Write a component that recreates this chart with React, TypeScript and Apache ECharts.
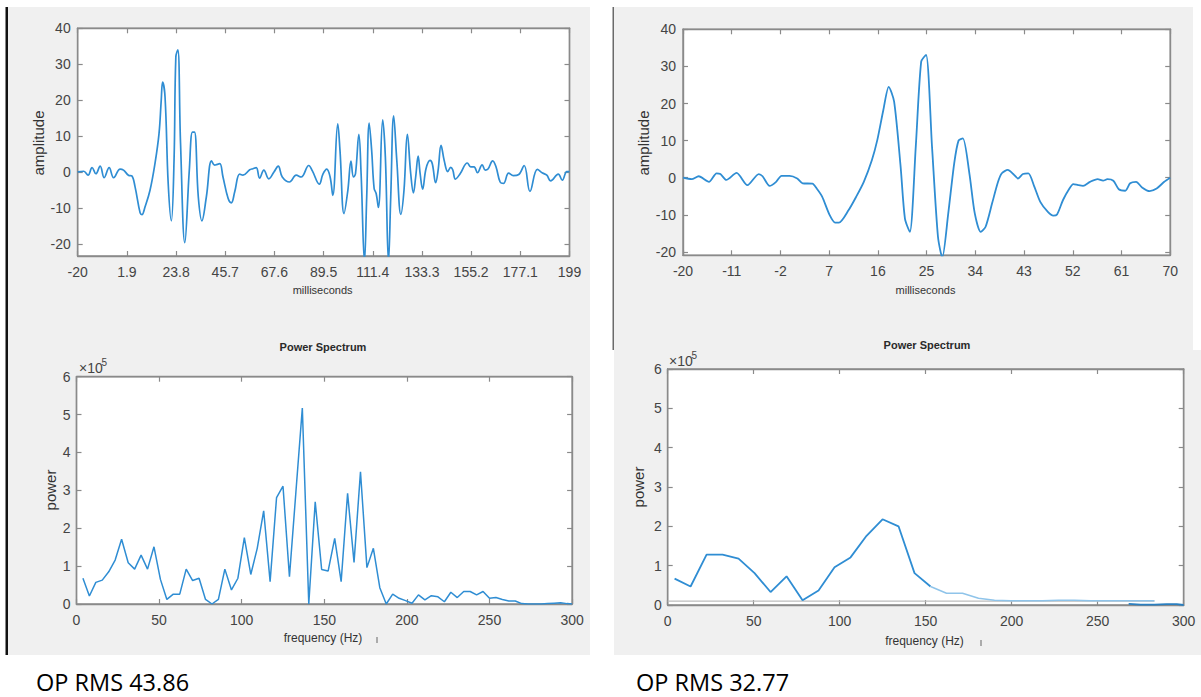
import React, { useEffect, useRef } from "react";
import * as echarts from "echarts";

// ---------- data ----------
// top-left waveform: [milliseconds, amplitude]
const tlSamples: number[][] = [
  [-20, 0], [-17.3, 0.2], [-15.4, -0.9], [-13.6, 1.2], [-11.9, -0.5], [-10, 1.6], [-8.2, -1.6], [-6, 1.2],
  [-4, -1.6], [-1.1, 0.8], [0.4, 0.5], [2.6, -0.9], [4.1, -1.1], [5.5, -4], [7.8, -11.4], [8.6, -11.9],
  [10, -9.7], [12.2, -5.1], [14.4, 2.3], [16.2, 10.6], [17.2, 20], [17.8, 25], [18.9, 20.8], [20.3, -3.2],
  [21.7, -13.6], [22.9, 3.2], [23.7, 32], [24.6, 34], [25.8, 7.9], [27.7, -19.7], [29.7, 0.5], [31.1, 11.1],
  [32, 11.1], [33.7, -6.9], [35.3, -13.6], [37.3, -6.9], [39.6, 3.1], [41, 1.9], [42.1, 2.1], [43.3, 2.3],
  [44.7, -1.4], [47, -7.4], [48.4, -8.6], [49.9, -5.6], [52.1, -0.6], [53.6, -0.9], [56.6, 0.6], [58, 0.9],
  [59.5, 1.2], [61, -1.7], [62.9, 0.5], [65.1, -1.9], [67.4, 0], [69.3, 1.6], [71.1, -1.4], [74.3, -2.8],
  [77.3, -0.9], [79.5, -1.4], [82.9, 1.8], [84.5, 0.3], [87.6, -3.4], [89.2, -0.6], [90.9, 0.8], [92.4, -1.4],
  [93.6, -6.5], [95.8, 13.4], [96.8, 6], [98.6, -11.6], [100.3, -5.1], [101.7, 3], [102.8, -1.4], [103.7, -0.5],
  [105.2, 10.5], [106.2, -0.5], [107.7, -25], [108.7, -6.9], [109.8, 13.6], [110.9, 6], [112, -4.6], [112.9, -6],
  [113.9, -9.9], [115.8, 14.5], [117, 4.2], [118.4, -25], [119.4, -6.9], [120.7, 15.6], [122.1, 3.2], [123.9, -11.8],
  [125.3, -5.1], [126.8, 10.5], [128.3, -0.5], [129.5, -5.8], [130.5, -1.4], [131.6, 4.4], [132.5, -0.5], [133.6, -4.8],
  [135.1, 0.9], [136.9, 3.2], [137.9, 2.3], [139.4, -3], [140.5, 0.5], [141.8, 7.4], [143.2, 3.2], [144.8, 0.1],
  [146.1, 1.3], [147, 0.6], [148.2, -2], [150.3, -0.5], [153.5, 2.5], [155, 1.4], [156.5, 1.4], [158, -0.2],
  [160.1, 2], [161.5, 0.5], [162.7, 0.8], [164.8, 3.1], [166.3, 1.4], [168.1, -2.8], [169.6, -3.2], [171.9, -0.3],
  [174, -1], [176.4, -0.7], [178.8, 1.8], [181.4, -5.4], [184.7, 0.7], [187, -0.3], [188.9, -0.9], [190.6, -2.5],
  [194, -0.6], [195.8, -2.3], [197.8, 0.1], [199, 0.1],
];

// top-right waveform
const trTime = [
  -20, -18.4, -17.1, -15.2, -13.8, -13.1, -12, -10.1, -8.1, -6, -5.3, -4, -2.8, -1.8, -0.3, 1.1, 2.1, 3.9, 4.7, 5.7,
  7.1, 8.1, 8.8, 10.6, 12, 13.4, 14.9, 15.9, 17, 18, 19, 20.2, 21, 21.9, 23, 24, 24.9, 26, 27.1, 27.9,
  29, 30.1, 30.9, 31.7, 32.9, 33.9, 35, 35.9, 37.1, 38.2, 38.9, 40, 41, 41.9, 42.8, 43.8, 44.9, 46, 47.4, 48.4,
  49.1, 50.2, 51.3, 52.1, 53, 53.9, 55.2, 56.6, 57.6, 58.4, 59.5, 60.5, 61.7, 62.6, 63.7, 64.8, 66.2, 67.5, 68.9, 70,
];
const trAmp = [
  0, -0.4, 0.4, -1.1, 1.2, 1, -0.6, 1.3, -2, 1, 0.4, -2.2, -1.1, 0.5, 0.5, -0.2, -1.5, -1.6, -2.9, -5.1,
  -10.1, -12.1, -12.1, -8.7, -5.1, -1.1, 4.8, 10.2, 18.2, 24.5, 20.5, 3, -11, -14.6, 8.4, 31.3, 33.1, 8.4, -15.9, -21.5,
  -9.6, 3.9, 10, 10.6, 1.2, -9.6, -14.6, -13.2, -6.9, -1.1, 1.2, 2.1, 1, -0.2, 1, 1.2, -2.4, -6.5, -9.2, -10.2,
  -9.9, -6, -3.1, -1.7, -2, -2.2, -1.1, -0.4, -0.8, -0.4, -0.8, -3.1, -3.5, -1.5, -1.1, -2.6, -3.6, -2.9, -1.1, 0,
];

// bottom-left power spectrum (power in units of 10^5)
const blFreq = [
  3.9, 7.8, 11.7, 15.6, 19.5, 23.4, 27.3, 31.3, 35.2, 39.1, 43, 46.9, 50.8, 54.7, 58.6, 62.5, 66.4, 70.3, 74.2, 78.1,
  82, 85.9, 89.8, 93.8, 97.7, 101.6, 105.5, 109.4, 113.3, 117.2, 121.1, 125, 128.9, 132.8, 136.7, 140.6, 144.5, 148.4, 152.3, 156.3,
  160.2, 164.1, 168, 171.9, 175.8, 179.7, 183.6, 187.5, 191.4, 195.3, 199.2, 203.1, 207, 210.9, 214.8, 218.8, 222.7, 226.6, 230.5, 234.4,
  238.3, 242.2, 246.1, 250, 253.9, 257.8, 261.7, 265.6, 269.5, 273.4, 277.3, 281.3, 285.2, 289.1, 293, 296.9, 300,
];
const blPower = [
  0.68, 0.21, 0.57, 0.63, 0.85, 1.16, 1.71, 1.09, 0.92, 1.29, 0.92, 1.51, 0.65, 0.12, 0.26, 0.26, 0.92, 0.62, 0.68, 0.12,
  0, 0.12, 0.92, 0.37, 0.68, 1.75, 0.78, 1.47, 2.46, 0.59, 2.81, 3.11, 0.72, 2.95, 5.17, 0, 2.7, 0.91, 0.87, 1.73,
  0.59, 2.92, 1.1, 3.49, 0.96, 1.47, 0.43, 0, 0.26, 0.15, 0.09, 0.02, 0.24, 0.11, 0.22, 0.19, 0.06, 0.31, 0.17, 0.33,
  0.33, 0.24, 0.33, 0.15, 0.17, 0.12, 0.08, 0.08, 0.01, 0, 0, 0, 0.01, 0.02, 0.03, 0.01, 0,
];

// bottom-right power spectrum
const brFreq = [4, 13.3, 22.6, 31.9, 41.2, 50.5, 59.8, 69.1, 78.4, 87.7, 97, 106.3, 115.6, 124.9, 134.2, 143.5, 152.8];
const brPower = [0.67, 0.47, 1.28, 1.28, 1.18, 0.81, 0.33, 0.73, 0.12, 0.37, 0.96, 1.21, 1.76, 2.18, 2.0, 0.81, 0.47];
const brTailFreq = [152.8, 162.1, 171.4, 180.7, 190, 199.3, 208.6, 217.9, 227.2, 236.5, 245.8, 255.1, 264.4, 273.7, 283];
const brTailPower = [0.47, 0.3, 0.3, 0.17, 0.12, 0.11, 0.11, 0.11, 0.12, 0.12, 0.11, 0.11, 0.11, 0.11, 0.11];
const brBaseFreq = [0, 283];
const brBasePower = [0.1, 0.1];
const brEndFreq = [268, 275, 283, 290, 296, 300];
const brEndPower = [0.03, 0.01, 0.01, 0.02, 0.02, 0];

// tick labels
const tlXTicks = [-20, 1.9, 23.8, 45.7, 67.6, 89.5, 111.4, 133.3, 155.2, 177.1, 199];
const trXTicks = [-20, -11, -2, 7, 16, 25, 34, 43, 52, 61, 70];
const ampTicks = [-20, -10, 0, 10, 20, 30, 40];
const freqTicks = [0, 50, 100, 150, 200, 250, 300];
const powerTicks = [0, 1, 2, 3, 4, 5, 6];

const zip = (a: number[], b: number[]) => a.map((v, i) => [v, b[i]]);

const AXIS_COLOR = "#8a8a8a";
const LABEL_COLOR = "#444";
const LINE_COLOR = "#2f8dd3";
const FONT = "'Liberation Sans', Arial, sans-serif";

function boxAxes(
  gridIndex: number,
  xmin: number, xmax: number, xTicks: number[],
  ymin: number, ymax: number, yTicks: number[],
  xMargin: number, yMargin: number
) {
  const lineStyle = { color: AXIS_COLOR, width: 1.4 };
  const tickStyle = { color: AXIS_COLOR, width: 1.2 };
  const label = (vals: number[], margin: number) => ({
    show: true,
    customValues: vals,
    color: LABEL_COLOR,
    fontSize: 14,
    fontFamily: FONT,
    margin,
    formatter: (v: number) => String(Math.round(v * 10) / 10),
  });
  const xs = [
    {
      type: "value", gridIndex, min: xmin, max: xmax, position: "bottom",
      axisLine: { show: true, onZero: false, lineStyle },
      axisTick: { show: true, inside: true, length: 5, customValues: xTicks, lineStyle: tickStyle },
      axisLabel: label(xTicks, xMargin),
      splitLine: { show: false },
    },
    {
      type: "value", gridIndex, min: xmin, max: xmax, position: "top",
      axisLine: { show: true, onZero: false, lineStyle },
      axisTick: { show: true, inside: true, length: 5, customValues: xTicks, lineStyle: tickStyle },
      axisLabel: { show: false },
      splitLine: { show: false },
    },
  ];
  const ys = [
    {
      type: "value", gridIndex, min: ymin, max: ymax, position: "left",
      axisLine: { show: true, onZero: false, lineStyle },
      axisTick: { show: true, inside: true, length: 5, customValues: yTicks, lineStyle: tickStyle },
      axisLabel: label(yTicks, yMargin),
      splitLine: { show: false },
    },
    {
      type: "value", gridIndex, min: ymin, max: ymax, position: "right",
      axisLine: { show: true, onZero: false, lineStyle },
      axisTick: { show: true, inside: true, length: 5, customValues: yTicks, lineStyle: tickStyle },
      axisLabel: { show: false },
      splitLine: { show: false },
    },
  ];
  return { xs, ys };
}

function txt(text: string, x: number, y: number, size: number, extra: any = {}) {
  return {
    type: "text",
    x, y,
    z: 10,
    rotation: extra.rotation || 0,
    style: {
      text,
      fontSize: size,
      fontFamily: extra.fontFamily || FONT,
      fontWeight: extra.fontWeight || "normal",
      fill: extra.fill || "#333",
      textAlign: extra.align || "center",
      textVerticalAlign: extra.vAlign || "middle",
    },
  };
}

export default function App() {
  const ref = useRef<HTMLDivElement>(null);
  useEffect(() => {
    const chart = echarts.init(ref.current!, null, { renderer: "svg" });

    const a1 = boxAxes(0, -20, 199, tlXTicks, -23.4, 40, ampTicks, 9, 7);
    const a2 = boxAxes(1, -20, 70, trXTicks, -20.9, 40, ampTicks, 9, 7);
    const a3 = boxAxes(2, 0, 300, freqTicks, 0, 6, powerTicks, 9, 6);
    const a4 = boxAxes(3, 0, 300, freqTicks, 0, 6, powerTicks, 9, 6);

    const gridBase = { show: true, backgroundColor: "#ffffff", borderColor: AXIS_COLOR, borderWidth: 1.4, containLabel: false };

    const ln = (xi: number, yi: number, data: number[][], extra: any = {}) => ({
      type: "line",
      xAxisIndex: xi,
      yAxisIndex: yi,
      data,
      symbol: "none",
      smooth: extra.smooth || false,
      clip: true,
      lineStyle: { color: extra.color || LINE_COLOR, width: extra.width || 1.5 },
      z: extra.z || 3,
    });

    const option: any = {
      animation: false,
      backgroundColor: "#ffffff",
      grid: [
        { ...gridBase, left: 77.7, top: 28.3, width: 491.8, height: 227.7 },
        { ...gridBase, left: 683, top: 29.3, width: 487.2, height: 226 },
        { ...gridBase, left: 76.5, top: 376.7, width: 495.6, height: 227.3 },
        { ...gridBase, left: 667.7, top: 369, width: 516, height: 236 },
      ],
      xAxis: [...a1.xs, ...a2.xs, ...a3.xs, ...a4.xs],
      yAxis: [...a1.ys, ...a2.ys, ...a3.ys, ...a4.ys],
      series: [
        ln(0, 0, tlSamples, { smooth: 0.4, width: 1.7 }),
        ln(2, 2, zip(trTime, trAmp), { smooth: 0.25, width: 1.8 }),
        ln(4, 4, zip(blFreq, blPower), { width: 1.5 }),
        ln(6, 6, zip(brBaseFreq, brBasePower), { color: "#bdbdbd", width: 1.2, z: 2 }),
        ln(6, 6, zip(brFreq, brPower), { width: 1.8 }),
        ln(6, 6, zip(brTailFreq, brTailPower), { color: "#8fc4ea", width: 1.5 }),
        ln(6, 6, zip(brEndFreq, brEndPower), { color: "#2a7fc0", width: 1.8 }),
      ],
      graphic: {
        elements: [
          // panels
          { type: "rect", z: -10, shape: { x: 8, y: 7, width: 582, height: 648 }, style: { fill: "#f0f0f0" } },
          { type: "rect", z: -10, shape: { x: 614, y: 7, width: 579, height: 343 }, style: { fill: "#f0f0f0" } },
          { type: "rect", z: -10, shape: { x: 614, y: 350, width: 587, height: 305 }, style: { fill: "#f0f0f0" } },
          { type: "rect", z: -9, shape: { x: 5.5, y: 7, width: 2.5, height: 648 }, style: { fill: "#111111" } },
          { type: "rect", z: -9, shape: { x: 612.5, y: 7, width: 1.5, height: 343 }, style: { fill: "#6a6a6a" } },
          // small tick marks after the frequency labels
          { type: "rect", z: 10, shape: { x: 376.5, y: 637, width: 1, height: 6 }, style: { fill: "#666666" } },
          { type: "rect", z: 10, shape: { x: 980.5, y: 640, width: 1, height: 6 }, style: { fill: "#666666" } },
          // texts top-left
          txt("amplitude", 38, 143, 15, { rotation: Math.PI / 2 }),
          txt("milliseconds", 322.6, 290, 11),
          // top-right
          txt("amplitude", 643, 143, 15, { rotation: Math.PI / 2 }),
          txt("milliseconds", 925.5, 290, 11),
          // bottom-left
          txt("Power Spectrum", 323, 347, 11, { fontWeight: "bold", fill: "#2a2a2a" }),
          txt("×10", 79, 368, 14, { align: "left", fill: LABEL_COLOR }),
          txt("5", 101.5, 362, 10, { align: "left", fill: LABEL_COLOR }),
          txt("power", 50, 490, 15, { rotation: Math.PI / 2 }),
          txt("frequency (Hz)", 323, 638, 12),
          txt("OP RMS 43.86", 36, 682, 23.5, { align: "left", fontFamily: "'Open Sans', 'Noto Sans', sans-serif", fill: "#000" }),
          // bottom-right
          txt("Power Spectrum", 927, 345, 11, { fontWeight: "bold", fill: "#2a2a2a" }),
          txt("×10", 669, 360.5, 14, { align: "left", fill: LABEL_COLOR }),
          txt("5", 691.5, 355, 10, { align: "left", fill: LABEL_COLOR }),
          txt("power", 638, 487, 15, { rotation: Math.PI / 2 }),
          txt("frequency (Hz)", 924.5, 641, 12),
          txt("OP RMS 32.77", 636, 682, 23.5, { align: "left", fontFamily: "'Open Sans', 'Noto Sans', sans-serif", fill: "#000" }),
        ],
      },
    };

    chart.setOption(option);
    return () => chart.dispose();
  }, []);

  return (
    <div
      ref={ref}
      style={{ position: "absolute", left: 0, top: 0, width: 1201, height: 697 }}
    />
  );
}
